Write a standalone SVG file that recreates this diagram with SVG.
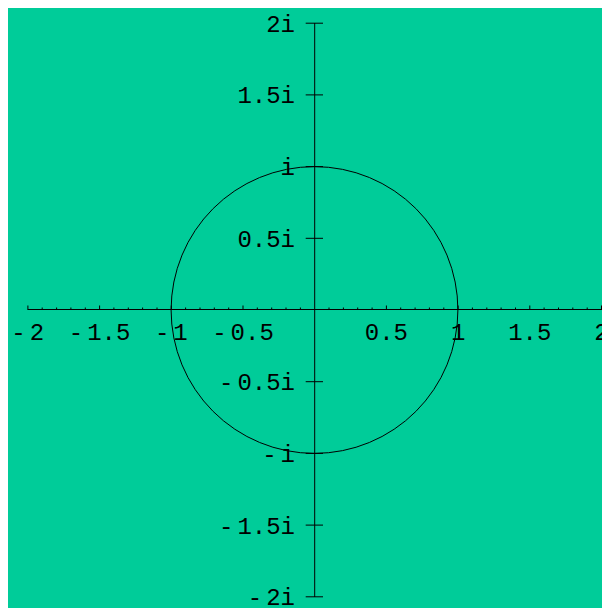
<svg xmlns="http://www.w3.org/2000/svg" width="602" height="608" viewBox="0 0 602 608">
<style>
.ln{stroke:#000;stroke-width:1;fill:none}
.lb{font-family:"Liberation Mono","Courier New",monospace;font-size:24px;fill:#000}
.ly{text-anchor:end}
.lx{text-anchor:middle}
</style>
<rect x="0" y="0" width="602" height="608" fill="#fff"/>
<rect x="8" y="8" width="594" height="600" fill="#00CC99"/>
<g id="axes">
<path class="ln" d="M27.5 309.5H602M314.7 23V597"/>
</g>
<g id="x-ticks">
<path class="ln" d="M27.9 309.5v-4M42.2 309.5v-2M56.6 309.5v-2M70.9 309.5v-2M85.3 309.5v-2M99.6 309.5v-4M113.9 309.5v-2M128.3 309.5v-2M142.6 309.5v-2M157 309.5v-2M171.3 309.5v-4M185.6 309.5v-2M200 309.5v-2M214.3 309.5v-2M228.7 309.5v-2M243 309.5v-4M257.3 309.5v-2M271.7 309.5v-2M286 309.5v-2M300.4 309.5v-2M329 309.5v-2M343.4 309.5v-2M357.7 309.5v-2M372.1 309.5v-2M386.4 309.5v-4M400.7 309.5v-2M415.1 309.5v-2M429.4 309.5v-2M443.8 309.5v-2M458.1 309.5v-4M472.4 309.5v-2M486.8 309.5v-2M501.1 309.5v-2M515.5 309.5v-2M529.8 309.5v-4M544.1 309.5v-2M558.5 309.5v-2M572.8 309.5v-2M587.2 309.5v-2M601.5 309.5v-4"/>
</g>
<g id="y-ticks">
<path class="ln" d="M305.7 23.2H323M305.7 94.9H323M305.7 166.6H323M305.7 238.3H323M305.7 381.7H323M305.7 453.4H323M305.7 525.1H323M305.7 596.8H323"/>
</g>
<g id="x-labels" class="lb lx">
<text x="27.7" y="340">-<tspan dx="4">2</tspan></text>
<text x="99.6" y="340">-<tspan dx="4">1.5</tspan></text>
<text x="171.3" y="340">-<tspan dx="4">1</tspan></text>
<text x="243" y="340">-<tspan dx="4">0.5</tspan></text>
<text x="386.4" y="340">0.5</text>
<text x="458.1" y="340">1</text>
<text x="529.8" y="340">1.5</text>
<text x="601.5" y="340">2</text>
</g>
<g id="y-labels" class="lb ly">
<text x="295" y="31.5">2i</text>
<text x="295" y="103.3">1.5i</text>
<text x="295" y="175">i</text>
<text x="295" y="246.8">0.5i</text>
<text x="295" y="390.2">-<tspan dx="4">0.5i</tspan></text>
<text x="295" y="462">-<tspan dx="4">i</tspan></text>
<text x="295" y="533.6">-<tspan dx="4">1.5i</tspan></text>
<text x="295" y="605.3">-<tspan dx="4">2i</tspan></text>
</g>
<g id="circle">
<circle class="ln" cx="314.5" cy="310" r="143.4"/>
</g>
</svg>
